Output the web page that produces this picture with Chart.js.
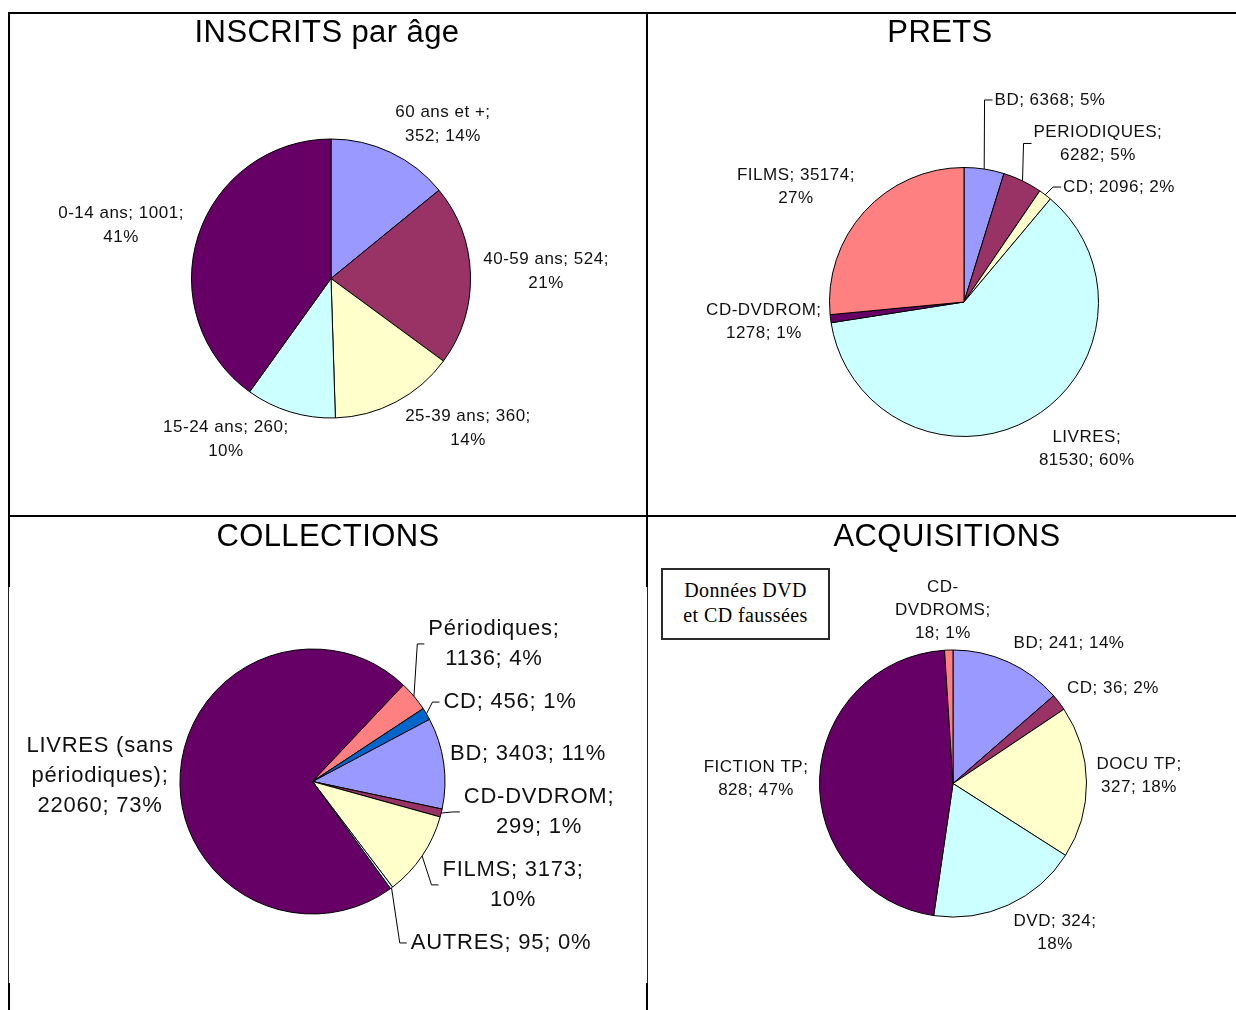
<!DOCTYPE html>
<html lang="fr">
<head>
<meta charset="utf-8">
<title>Inscrits, prêts, collections, acquisitions</title>
<script src="https://cdn.jsdelivr.net/npm/chart.js@4.4.1/dist/chart.umd.min.js"></script>
<style>
  html, body { margin: 0; padding: 0; background: #fff; }
  #page { position: relative; width: 1236px; height: 1010px; overflow: hidden; background: #fff; }
  .cell { position: absolute; }
  .cell canvas { display: block; }
  .line { position: absolute; background: #000; z-index: 2; }
  .thin { background: #222; }
  .titre { position: absolute; width: 400px; text-align: center; white-space: nowrap;
           font-family: "Liberation Sans", Arial, sans-serif; font-size: 31px; line-height: 31px;
           letter-spacing: 0.4px; color: #000; z-index: 3; }
  #note { position: absolute; left: 661px; top: 568px; width: 169px; height: 72px; box-sizing: border-box;
          border: 2px solid #2a2a2a; padding-top: 8px; text-align: center; background: #fff;
          font-family: "Liberation Serif", "Times New Roman", serif; font-size: 20px; line-height: 25px;
          letter-spacing: 0.4px; color: #000; z-index: 3; }
</style>
</head>
<body>
<div id="page">
  <div class="cell" style="left:10px;top:14px"><canvas id="inscrits" width="636" height="501"></canvas></div>
  <div class="cell" style="left:648px;top:14px"><canvas id="prets" width="588" height="501"></canvas></div>
  <div class="cell" style="left:10px;top:517px"><canvas id="collections" width="636" height="493"></canvas></div>
  <div class="cell" style="left:648px;top:517px"><canvas id="acquisitions" width="588" height="493"></canvas></div>

  <div class="titre" style="left:127px;top:16px">INSCRITS par âge</div>
  <div class="titre" style="left:740px;top:16px">PRETS</div>
  <div class="titre" style="left:128px;top:520px">COLLECTIONS</div>
  <div class="titre" style="left:747px;top:520px">ACQUISITIONS</div>

  <div id="note">Données DVD<br>et CD faussées</div>

  <!-- cadre du tableau -->
  <div class="line" style="left:8px;top:12px;width:1228px;height:2px"></div>
  <div class="line" style="left:8px;top:515px;width:1228px;height:2px"></div>
  <div class="line" style="left:8px;top:12px;width:2px;height:575px"></div>
  <div class="line thin" style="left:8px;top:587px;width:1px;height:396px"></div>
  <div class="line" style="left:8px;top:983px;width:2px;height:27px"></div>
  <div class="line" style="left:646px;top:12px;width:2px;height:575px"></div>
  <div class="line thin" style="left:647px;top:587px;width:1px;height:396px"></div>
  <div class="line" style="left:646px;top:983px;width:2px;height:27px"></div>
</div>

<script>
// Inscrits par âge
const inscritsCategories = ['60 ans et +', '40-59 ans', '25-39 ans', '15-24 ans', '0-14 ans'];
const inscritsValeurs = [352, 524, 360, 260, 1001];

// Prêts
const pretsCategories = ['BD', 'PERIODIQUES', 'CD', 'LIVRES', 'CD-DVDROM', 'FILMS'];
const pretsValeurs = [6368, 6282, 2096, 81530, 1278, 35174];

// Collections
const collectionsCategories = ['BD', 'CD-DVDROM', 'FILMS', 'AUTRES', 'LIVRES (sans périodiques)', 'Périodiques', 'CD'];
const collectionsValeurs = [3403, 299, 3173, 95, 22060, 1136, 456];

// Acquisitions
const acquisitionsCategories = ['BD', 'CD', 'DOCU TP', 'DVD', 'FICTION TP', 'CD-DVDROMS'];
const acquisitionsValeurs = [241, 36, 327, 324, 828, 18];

// palette Excel
const palette = ['#9999FF', '#993366', '#FFFFCC', '#CCFFFF', '#660066', '#FF8080', '#0066CC'];

// pourcentages arrondis, l'écart est reporté sur la plus grosse part (comme Excel)
function pourcentages(vals) {
    const tot = vals.reduce((a, b) => a + b, 0);
    const p = vals.map(v => Math.round(v / tot * 100));
    const diff = 100 - p.reduce((a, b) => a + b, 0);
    p[vals.indexOf(Math.max(...vals))] += diff;
    return p;
}

// découpe l'étiquette en lignes : br = index des mots qui commencent une ligne
function couper(texte, br) {
    const mots = [];
    texte.split(' ').forEach(w => {
        w.split(/(?<=-)(?=[A-Za-zÀ-ÿ])/).forEach((m, j) => mots.push({ t: m, colle: j > 0 }));
    });
    const lignes = [];
    let cur = '';
    mots.forEach((m, i) => {
        if (br.includes(i)) { lignes.push(cur); cur = m.t; }
        else cur = cur === '' ? m.t : cur + (m.colle ? '' : ' ') + m.t;
    });
    lignes.push(cur);
    return lignes;
}

const etiquettes = {
    id: 'etiquettes',
    afterDatasetsDraw(chart, args, opts) {
        const ctx = chart.ctx;
        const meta = chart.getDatasetMeta(0);
        const data = chart.data.datasets[0].data;
        const pcts = pourcentages(data);
        ctx.save();
        ctx.font = opts.size + 'px "Liberation Sans", Arial, sans-serif';
        if ('letterSpacing' in ctx) ctx.letterSpacing = opts.spacing + 'px';
        ctx.fillStyle = '#111';
        ctx.strokeStyle = '#000';
        ctx.lineWidth = 1;
        ctx.textAlign = 'center';
        ctx.textBaseline = 'middle';
        meta.data.forEach((arc, i) => {
            const p = arc.getProps(['x', 'y', 'startAngle', 'endAngle', 'outerRadius'], true);
            const mid = (p.startAngle + p.endAngle) / 2;
            const d = p.outerRadius + 40;
            const pos = opts.pos[i];
            const cx = p.x + Math.cos(mid) * d + pos.dx;
            const cy = p.y + Math.sin(mid) * d + pos.dy;
            const lignes = couper(chart.data.labels[i] + '; ' + data[i] + '; ' + pcts[i] + '%', pos.br);
            const y0 = cy - (lignes.length - 1) * opts.lh / 2;
            lignes.forEach((l, k) => ctx.fillText(l, cx, y0 + k * opts.lh));
            if (pos.leader) {
                const w = Math.max(...lignes.map(l => ctx.measureText(l).width));
                const sx = p.x + Math.cos(mid) * p.outerRadius;
                const sy = p.y + Math.sin(mid) * p.outerRadius;
                const ex = cx - w / 2 - opts.gap;
                ctx.beginPath();
                ctx.moveTo(sx, sy);
                ctx.lineTo(ex - opts.elbow, cy);
                ctx.lineTo(ex, cy);
                ctx.stroke();
            }
        });
        ctx.restore();
    }
};

function camembert(id, cats, vals, geo, lab) {
    const cv = document.getElementById(id);
    const W = cv.width, H = cv.height;
    return new Chart(cv.getContext('2d'), {
        type: 'pie',
        data: {
            labels: cats,
            datasets: [{
                data: vals,
                backgroundColor: palette.slice(0, vals.length),
                borderColor: '#000',
                borderWidth: 1
            }]
        },
        options: {
            responsive: false,
            animation: false,
            events: [],
            rotation: geo.rot || 0,
            layout: {
                padding: { left: geo.cx - geo.r, right: W - geo.cx - geo.r, top: geo.cy - geo.r, bottom: H - geo.cy - geo.r }
            },
            plugins: {
                legend: { display: false },
                tooltip: { enabled: false },
                etiquettes: lab
            }
        },
        plugins: [etiquettes]
    });
}

window.onload = function () {
    camembert('inscrits', inscritsCategories, inscritsValeurs,
        { cx: 321, cy: 264.5, r: 140 },
        { size: 17, spacing: 0.5, lh: 24, gap: 2, elbow: 8, pos: [
            { dx: 35, dy: 7.6, br: [4] },
            { dx: 35.6, dy: -2.3, br: [3] },
            { dx: 53.4, dy: -8.9, br: [3] },
            { dx: -52.8, dy: -10.8, br: [3] },
            { dx: -39.1, dy: 2, br: [3] }
        ] });

    camembert('prets', pretsCategories, pretsValeurs,
        { cx: 316, cy: 288, r: 135 },
        { size: 17, spacing: 0.5, lh: 23, gap: 2, elbow: 8, pos: [
            { dx: 59.8, dy: -29.5, br: [], leader: true },
            { dx: 58, dy: -1.4, br: [1], leader: true },
            { dx: 49.6, dy: 24.1, br: [], leader: true },
            { dx: 37, dy: -5.5, br: [1] },
            { dx: -27, dy: -2, br: [2] },
            { dx: -39, dy: 2, br: [2] }
        ] });

    camembert('collections', collectionsCategories, collectionsValeurs,
        { cx: 302.5, cy: 264.5, r: 133, rot: 62 },
        { size: 22, spacing: 0.75, lh: 30, gap: 4, elbow: 7, pos: [
            { dx: 44.7, dy: -3.5, br: [] },
            { dx: 59, dy: -10.6, br: [2], leader: true },
            { dx: 57.8, dy: 6.5, br: [2], leader: true },
            { dx: 85.6, dy: 23, br: [], leader: true },
            { dx: -40.3, dy: 5.8, br: [2, 3] },
            { dx: 49.4, dy: -26.6, br: [1], leader: true },
            { dx: 49.1, dy: 8.6, br: [], leader: true }
        ] });

    camembert('acquisitions', acquisitionsCategories, acquisitionsValeurs,
        { cx: 305, cy: 266.5, r: 134 },
        { size: 17, spacing: 0.5, lh: 23, gap: 2, elbow: 8, pos: [
            { dx: 44.2, dy: 17.5, br: [] },
            { dx: 22.2, dy: 10, br: [] },
            { dx: 12.5, dy: -5.8, br: [2] },
            { dx: 29.9, dy: -8.8, br: [2] },
            { dx: -23.6, dy: 2, br: [2] },
            { dx: -4.6, dy: 0, br: [1, 2] }
        ] });
};
</script>
</body>
</html>
